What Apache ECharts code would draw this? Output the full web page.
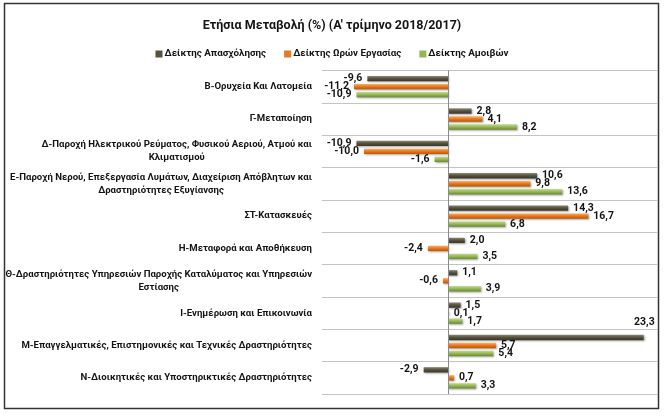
<!DOCTYPE html>
<html>
<head>
<meta charset="utf-8">
<script src="https://cdn.jsdelivr.net/npm/echarts@6/dist/echarts.min.js"></script>
<style>
  html, body { margin: 0; padding: 0; background: #ffffff; }
  #chart { width: 664px; height: 416px; }
</style>
</head>
<body>
<div id="chart"></div>
<script>
// ---------------- data ----------------
const title = "Ετήσια Μεταβολή (%) (Α' τρίμηνο 2018/2017)";
const categories = [
  "Β-Ορυχεία Και Λατομεία",
  "Γ-Μεταποίηση",
  "Δ-Παροχή Ηλεκτρικού Ρεύματος, Φυσικού Αεριού, Ατμού και Κλιματισμού",
  "Ε-Παροχή Νερού, Επεξεργασία Λυμάτων, Διαχείριση Απόβλητων και Δραστηριότητες Εξυγίανσης",
  "ΣΤ-Κατασκευές",
  "Η-Μεταφορά και Αποθήκευση",
  "Θ-Δραστηριότητες Υπηρεσιών Παροχής Καταλύματος και Υπηρεσιών Εστίασης",
  "Ι-Ενημέρωση και Επικοινωνία",
  "Μ-Επαγγελματικές, Επιστημονικές και Τεχνικές Δραστηριότητες",
  "Ν-Διοικητικές και Υποστηρικτικές Δραστηριότητες"
];
const seriesNames = ["Δείκτης Απασχόλησης", "Δείκτης Ωρών Εργασίας", "Δείκτης Αμοιβών"];
const employmentValues = [-9.6, 2.8, -10.9, 10.6, 14.3, 2.0, 1.1, 1.5, 23.3, -2.9];
const hoursValues      = [-11.2, 4.1, -10.0, 9.8, 16.7, -2.4, -0.6, 0.1, 5.7, 0.7];
const wagesValues      = [-10.9, 8.2, -1.6, 13.6, 6.8, 3.5, 3.9, 1.7, 5.4, 3.3];
const xMin = -15, xMax = 25;

// ---------------- styling ----------------
const FONT = "Roboto";
const CAT_SIZE = 9.6;
const TEXT_COLOR = "#141414";

function grad(top, mid, bottom) {
  return new echarts.graphic.LinearGradient(0, 0, 0, 1, [
    { offset: 0, color: top }, { offset: 0.45, color: mid }, { offset: 1, color: bottom }
  ]);
}
const seriesColors = [
  grad("#8c8a74", "#58543f", "#38352a"),
  grad("#fbb06a", "#ec7a1c", "#b65808"),
  grad("#c4dc8e", "#98ba58", "#6b8a33")
];
const legendColors = ["#57533f", "#e9791d", "#94b653"];

const measureCtx = document.createElement("canvas").getContext("2d");
measureCtx.font = "bold " + CAT_SIZE + "px " + FONT;
function wrapText(text, maxW) {
  const words = text.split(" ");
  const lines = [];
  let cur = "";
  for (const w of words) {
    const test = cur ? cur + " " + w : w;
    if (cur && measureCtx.measureText(test).width > maxW) {
      lines.push(cur);
      cur = w;
    } else {
      cur = test;
    }
  }
  if (cur) lines.push(cur);
  return lines;
}

function fmt(v) { return v.toFixed(1).replace(".", ","); }

function makeData(vals) {
  return vals.map(v => {
    let label;
    if (v > xMax - 2.5) {
      label = { position: ["100%", 0], align: "right", verticalAlign: "bottom", offset: [11, -7] };
    } else {
      label = { position: v < 0 ? "left" : "right" };
    }
    return { value: v, label: label };
  });
}

const valueSets = [employmentValues, hoursValues, wagesValues];

const chart = echarts.init(document.getElementById("chart"), null, { renderer: "canvas" });

const series = valueSets.map((vals, i) => ({
  name: seriesNames[i],
  type: "bar",
  data: makeData(vals),
  barGap: "50%",
  barCategoryGap: "34%",
  itemStyle: {
    color: seriesColors[i],
    shadowColor: "rgba(0,0,0,0.35)",
    shadowBlur: 2,
    shadowOffsetX: 1,
    shadowOffsetY: 1
  },
  label: {
    show: true,
    distance: 5,
    formatter: p => fmt(p.value),
    fontFamily: FONT,
    fontWeight: "bold",
    fontSize: 10.5,
    color: TEXT_COLOR
  },
  markLine: i === 0 ? {
    silent: true,
    symbol: ["none", "none"],
    label: { show: false },
    lineStyle: { color: "#8a8a8a", width: 1, type: "solid" },
    data: [{ xAxis: 0 }]
  } : undefined
}));

chart.setOption({
  animation: false,
  color: legendColors,
  title: {
    text: title,
    left: "center",
    top: 14,
    textStyle: { fontFamily: FONT, fontWeight: "bold", fontSize: 12.5, color: TEXT_COLOR }
  },
  legend: {
    data: seriesNames.map((n, i) => ({ name: n, itemStyle: { color: legendColors[i] } })),
    top: 44,
    left: "center",
    icon: "rect",
    itemWidth: 7,
    itemHeight: 7,
    itemGap: 18,
    textStyle: { fontFamily: FONT, fontWeight: "bold", fontSize: 9.8, color: TEXT_COLOR, padding: [0, 0, 0, -3] }
  },
  grid: { left: 322, right: 6, top: 70.5, bottom: 22, containLabel: false },
  xAxis: {
    type: "value",
    min: xMin,
    max: xMax,
    axisLabel: { show: false },
    axisLine: { show: false },
    axisTick: { show: false },
    splitLine: { show: false }
  },
  yAxis: {
    type: "category",
    inverse: true,
    data: categories,
    axisLine: { show: false, onZero: false },
    axisTick: { show: false },
    splitLine: { show: true, lineStyle: { color: "#c4c4c4", width: 1 } },
    axisLabel: {
      margin: 10,
      interval: 0,
      formatter: v => wrapText(v, 312).map(l => "{c|" + l + "}").join("\n"),
      rich: {
        c: { align: "center", fontFamily: FONT, fontWeight: "bold", fontSize: CAT_SIZE, color: TEXT_COLOR, lineHeight: 13 }
      }
    }
  },
  graphic: [{
    type: "rect",
    silent: true,
    shape: { x: 4.5, y: 3.5, width: 654, height: 405 },
    style: { fill: "none", stroke: "#333333", lineWidth: 1.5 }
  }],
  series: series
});
</script>
</body>
</html>
